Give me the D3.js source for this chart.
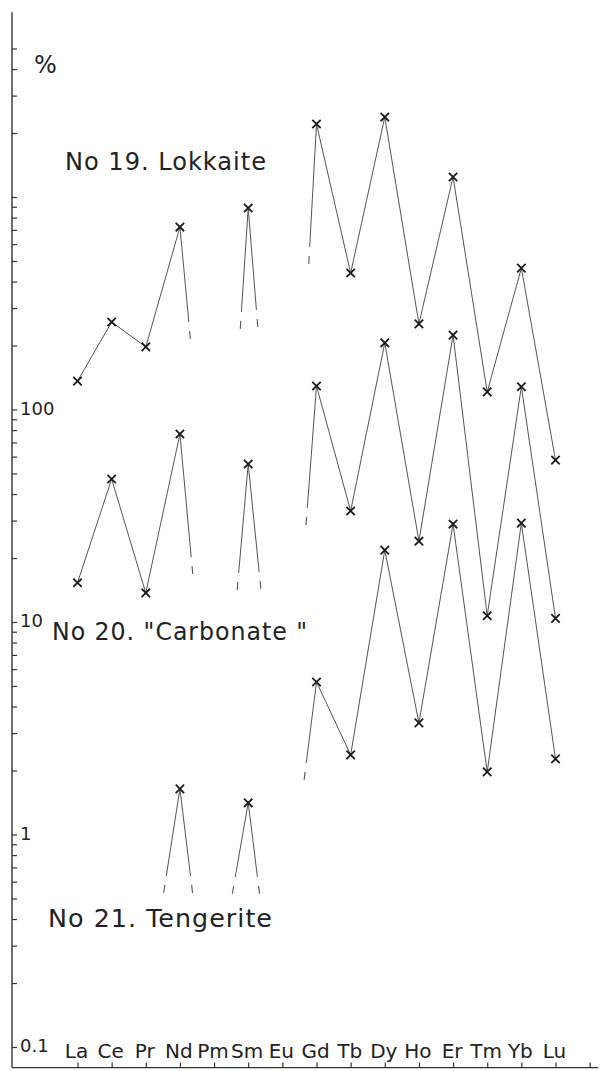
<!DOCTYPE html>
<html>
<head>
<meta charset="utf-8">
<script src="https://cdn.jsdelivr.net/npm/d3@7"></script>
<style>
  html, body { margin: 0; padding: 0; background: #fff; }
  svg { display: block; }
  text { font-family: "DejaVu Sans", sans-serif; fill: #222; }
</style>
</head>
<body>
<svg id="chart" width="614" height="1071"></svg>
<script>
// ---- data ----
const categories = ["La","Ce","Pr","Nd","Pm","Sm","Eu","Gd","Tb","Dy","Ho","Er","Tm","Yb","Lu"];
const lokkaite  = [136, 258, 197, 722, null, 888, null, 2206, 439, 2378, 253, 1242, 121, 463, 57.8];
const carbonate = [15.3, 47.1, 13.7, 76.7, null, 55.4, null, 129, 33.3, 206, 24.0, 224, 10.7, 128, 10.4];
const tengerite = [null, null, null, 1.64, null, 1.41, null, 5.22, 2.37, 21.8, 3.35, 28.9, 1.97, 29.2, 2.27];
// broken (interrupted) lines toward missing elements: [from element, toward category index, value reached]
const lokkaiteStubs  = [["Nd", 3.26, 258], ["Sm", 4.80, 288], ["Sm", 5.24, 294], ["Gd", 6.80, 582]];
const carbonateStubs = [["Nd", 3.33, 20.2], ["Sm", 4.72, 17.0], ["Sm", 5.32, 17.2], ["Gd", 6.73, 34.4]];
const tengeriteStubs = [["Nd", 2.60, 0.638], ["Nd", 3.31, 0.638], ["Sm", 4.62, 0.631], ["Sm", 5.27, 0.631], ["Gd", 6.70, 2.17]];
const seriesNames = ["No 19. Lokkaite", "No 20. \"Carbonate \"", "No 21. Tengerite"];
const yLabelValues = [0.1, 1, 10, 100];
const yLabelText = ["0.1", "1", "10", "100"];
const yUnit = "%";
const axisExtent = [0.08, 7400];
const minorTickMax = 5000;

// ---- scales ----
const svg = d3.select("#chart");
const y = d3.scaleLog().domain([0.1, 1000]).range([1047, 197]);
const xi = d3.scaleLinear().domain([0, 14]).range([77.5, 555.5]);
const x = c => xi(categories.indexOf(c));

// ---- y axis ----
const axisX = 12, axisBottom = y(axisExtent[0]);
svg.append("line").attr("x1", axisX).attr("x2", axisX)
  .attr("y1", y(axisExtent[1])).attr("y2", axisBottom)
  .attr("stroke", "#333").attr("stroke-width", 1.4);

const yTicks = d3.scaleLog().domain([0.1, minorTickMax]).ticks().filter(v => v <= minorTickMax);
const yAxis = d3.axisRight(y).tickValues(yTicks).tickSize(5).tickFormat("");
const gy = svg.append("g").attr("transform", `translate(${axisX},0)`).call(yAxis);
gy.select(".domain").remove();
gy.selectAll(".tick line").attr("stroke", "#333").attr("stroke-width", 1.2);

svg.selectAll("text.ylab").data(yLabelValues).join("text")
  .attr("class", "ylab")
  .attr("x", 20).attr("y", d => y(d) + 5)
  .attr("font-size", 18)
  .text((d, i) => yLabelText[i]);

svg.append("text").attr("x", 34).attr("y", 73).attr("font-size", 24).text(yUnit);

// ---- x axis ----
const axisY = axisBottom;
svg.append("line").attr("x1", axisX).attr("x2", 598)
  .attr("y1", axisY).attr("y2", axisY)
  .attr("stroke", "#333").attr("stroke-width", 1.4);
const xAxis = d3.axisTop(xi).tickValues(d3.range(categories.length + 1)).tickSize(5).tickFormat("");
const gx = svg.append("g").attr("transform", `translate(0,${axisY})`).call(xAxis);
gx.select(".domain").remove();
gx.selectAll(".tick line").attr("stroke", "#333").attr("stroke-width", 1.2);

svg.selectAll("text.xlab").data(categories).join("text")
  .attr("class", "xlab")
  .attr("x", d => x(d) - 1).attr("y", 1058)
  .attr("text-anchor", "middle")
  .attr("font-size", 20)
  .text(d => d);

// ---- series ----
const allSeries = [
  {values: lokkaite, stubs: lokkaiteStubs},
  {values: carbonate, stubs: carbonateStubs},
  {values: tengerite, stubs: tengeriteStubs}
];
const line = d3.line().defined(d => d.v != null).x(d => x(d.c)).y(d => y(d.v));

allSeries.forEach(s => {
  const pts = categories.map((c, i) => ({c, v: s.values[i]}));
  svg.append("path").datum(pts)
    .attr("d", line).attr("fill", "none")
    .attr("stroke", "#555").attr("stroke-width", 1);

  s.stubs.forEach(([from, ti, tv]) => {
    const fi = categories.indexOf(from);
    const x0 = xi(fi), y0 = y(s.values[fi]);
    const x1 = xi(ti), y1 = y(tv);
    const len = Math.hypot(x1 - x0, y1 - y0);
    const ux = (x1 - x0) / len, uy = (y1 - y0) / len;
    svg.append("line").attr("x1", x0).attr("y1", y0).attr("x2", x1).attr("y2", y1)
      .attr("stroke", "#555").attr("stroke-width", 1);
    svg.append("line")
      .attr("x1", x1 + ux * 9).attr("y1", y1 + uy * 9)
      .attr("x2", x1 + ux * 17).attr("y2", y1 + uy * 17)
      .attr("stroke", "#555").attr("stroke-width", 1.1);
  });

  svg.selectAll(null).data(pts.filter(d => d.v != null)).join("path")
    .attr("transform", d => `translate(${x(d.c)},${y(d.v)})`)
    .attr("d", "M-4.2,-4.2L4.2,4.2M-4.2,4.2L4.2,-4.2")
    .attr("stroke", "#1a1a1a").attr("stroke-width", 1.8).attr("fill", "none");
});

// ---- series titles ----
const titlePos = [[65, 170, 202], [52, 640, 256], [48, 927, 225]];
svg.selectAll("text.title").data(seriesNames).join("text")
  .attr("class", "title")
  .attr("x", (d, i) => titlePos[i][0]).attr("y", (d, i) => titlePos[i][1])
  .attr("textLength", (d, i) => titlePos[i][2])
  .attr("lengthAdjust", "spacingAndGlyphs")
  .attr("font-size", 25)
  .style("letter-spacing", "1px")
  .text(d => d);
</script>
</body>
</html>
